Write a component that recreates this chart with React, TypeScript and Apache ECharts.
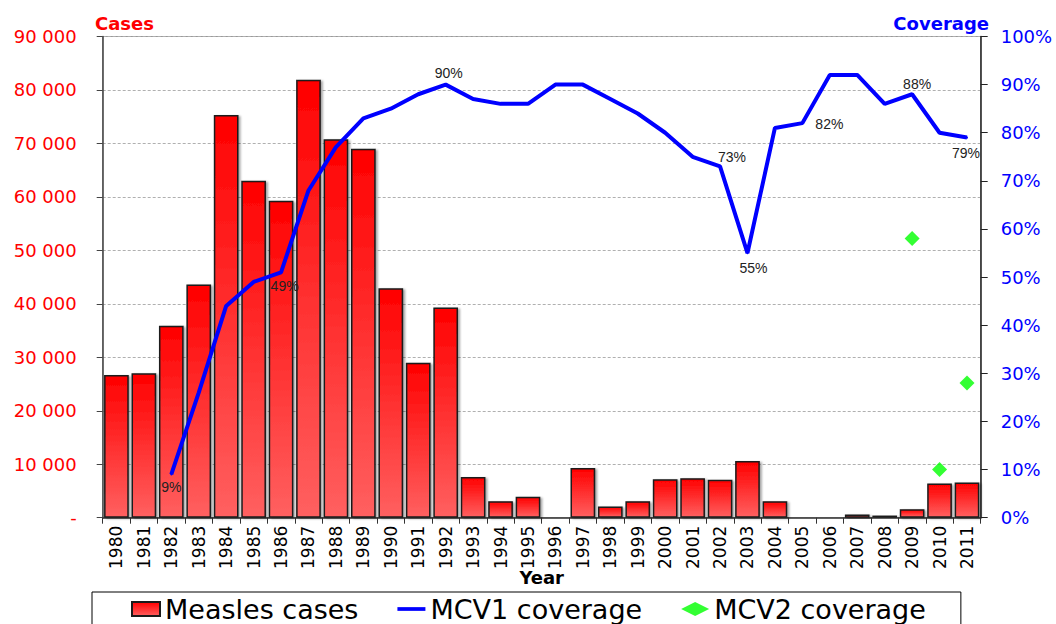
import React, { useEffect, useRef } from 'react';
import * as echarts from 'echarts';

// ---- data ----
const years = [
  '1980', '1981', '1982', '1983', '1984', '1985', '1986', '1987', '1988', '1989',
  '1990', '1991', '1992', '1993', '1994', '1995', '1996', '1997', '1998', '1999',
  '2000', '2001', '2002', '2003', '2004', '2005', '2006', '2007', '2008', '2009',
  '2010', '2011',
];
const measlesCases = [
  26700, 27000, 35900, 43600, 75300, 63000, 59300, 81900, 70800, 69000,
  42900, 29000, 39300, 7600, 3100, 3900, 100, 9300, 2100, 3100,
  7200, 7400, 7100, 10600, 3100, 200, 30, 600, 400, 1600,
  6400, 6600,
];
const mcv1Coverage: (number | null)[] = [
  null, null, 9, 26, 44, 49, 51, 68, 77, 83,
  85, 88, 90, 87, 86, 86, 90, 90, 87, 84,
  80, 75, 73, 55, 81, 82, 92, 92, 86, 88,
  80, 79,
];
const mcv2Coverage: (number | null)[] = [
  null, null, null, null, null, null, null, null, null, null,
  null, null, null, null, null, null, null, null, null, null,
  null, null, null, null, null, null, null, null, null, 58,
  10, 28,
];
const casesAxis = { min: 0, max: 90000, interval: 10000 };
const coverageAxis = { min: 0, max: 100, interval: 10 };
const seriesNames = ['Measles cases', 'MCV1 coverage', 'MCV2 coverage'];

// label placement (style only): offset of the value label from its point, by year
const mcv1LabelOffsets: Record<string, [number, number]> = {
  '1982': [0, 13],
  '1985': [31, 4],
  '1992': [3, -12],
  '2002': [12, -9],
  '2003': [6, 15],
  '2005': [27, 1],
  '2009': [5, -10],
  '2011': [-1, 15],
};

const fmtThousands = (v: number) =>
  v === 0 ? '-' : String(v).replace(/\B(?=(\d{3})+(?!\d))/g, ' ');

export default function App() {
  const ref = useRef<HTMLDivElement>(null);

  useEffect(() => {
    document.body.style.margin = '0';
    document.body.style.overflow = 'hidden';
    if (!ref.current) return;
    const chart = echarts.init(ref.current, undefined, { renderer: 'svg' });

    const font = 'DejaVu Sans';
    const barGradient = new echarts.graphic.LinearGradient(0, 0, 0, 1, [
      { offset: 0, color: '#ff0000' },
      { offset: 1, color: '#ff6060' },
    ]);

    const mcv1Data = mcv1Coverage.map((v, i) => {
      const off = mcv1LabelOffsets[years[i]];
      if (v === null) return '-';
      if (!off) return v;
      return {
        value: v,
        label: {
          show: true,
          position: 'inside',
          offset: off,
          formatter: '{c}%',
          fontFamily: 'Liberation Sans',
          fontSize: 14,
          color: '#222',
        },
      };
    });

    chart.setOption({
      animation: false,
      textStyle: { fontFamily: font },
      grid: {
        left: 102.7,
        right: 75.3,
        top: 36.5,
        bottom: 106.3,
        show: true,
        borderColor: '#999',
        borderWidth: 1,
      },
      graphic: [
        {
          type: 'text',
          left: 95,
          top: 14,
          style: { text: 'Cases', fill: '#ff0000', font: `bold 18px "${font}"` },
        },
        {
          type: 'text',
          right: 67,
          top: 14,
          style: { text: 'Coverage', fill: '#0000ff', font: `bold 18px "${font}"` },
        },
      ],
      legend: {
        left: 92,
        top: 592,
        padding: [3, 35, 6, 39],
        itemGap: 39,
        itemWidth: 28,
        itemHeight: 14,
        borderColor: '#000',
        borderWidth: 1,
        backgroundColor: '#fff',
        textStyle: { fontFamily: font, fontSize: 27, lineHeight: 28, color: '#000' },
        data: [
          { name: seriesNames[0], icon: 'rect' },
          { name: seriesNames[1], icon: 'path://M0,0L30,0L30,4L0,4Z' },
          { name: seriesNames[2], icon: 'diamond' },
        ],
      },
      xAxis: {
        type: 'category',
        data: years,
        boundaryGap: true,
        name: 'Year',
        nameLocation: 'middle',
        nameGap: 51,
        nameMoveOverlap: false,
        nameTextStyle: { fontFamily: font, fontSize: 18, fontWeight: 'bold', color: '#000' },
        axisLine: { lineStyle: { color: '#333', width: 1.5 } },
        axisTick: { show: true, alignWithLabel: false, length: 6, lineStyle: { color: '#333' } },
        axisLabel: {
          interval: 0,
          rotate: 90,
          margin: 8,
          fontFamily: font,
          fontSize: 17,
          color: '#000',
        },
      },
      yAxis: [
        {
          type: 'value',
          ...casesAxis,
          position: 'left',
          axisLine: { show: true, lineStyle: { color: '#444', width: 1.5 } },
          axisTick: { show: true, length: 6, lineStyle: { color: '#444' } },
          axisLabel: {
            formatter: (v: number) => fmtThousands(v),
            color: '#ff0000',
            fontFamily: font,
            fontSize: 18,
            margin: 26,
          },
          splitLine: { show: true, lineStyle: { color: '#b0b0b0', type: [3, 2], width: 1 } },
        },
        {
          type: 'value',
          ...coverageAxis,
          position: 'right',
          axisLine: { show: true, lineStyle: { color: '#222', width: 1.5 } },
          axisTick: { show: true, length: 7, lineStyle: { color: '#222' } },
          axisLabel: {
            formatter: '{value}%',
            color: '#0000ff',
            fontFamily: font,
            fontSize: 18,
            margin: 20,
          },
          splitLine: { show: false },
        },
      ],
      series: [
        {
          name: seriesNames[0],
          type: 'bar',
          yAxisIndex: 0,
          data: measlesCases,
          barCategoryGap: '10%',
          itemStyle: {
            color: barGradient,
            borderColor: '#1a1a1a',
            borderWidth: 1.5,
            shadowColor: 'rgba(0,0,0,0.35)',
            shadowBlur: 2,
            shadowOffsetX: 2,
            shadowOffsetY: 1,
          },
        },
        {
          name: seriesNames[1],
          type: 'line',
          yAxisIndex: 1,
          data: mcv1Data,
          symbol: 'circle',
          symbolSize: 2,
          showSymbol: true,
          itemStyle: { color: '#0000ff' },
          lineStyle: { color: '#0000ff', width: 4 },
          z: 5,
        },
        {
          name: seriesNames[2],
          type: 'scatter',
          yAxisIndex: 1,
          data: mcv2Coverage.map((v) => (v === null ? '-' : v)),
          symbol: 'diamond',
          symbolSize: 15,
          itemStyle: { color: '#00ff00' },
          z: 6,
        },
      ],
    });

    return () => chart.dispose();
  }, []);

  return <div ref={ref} style={{ width: 1056, height: 624 }} />;
}
